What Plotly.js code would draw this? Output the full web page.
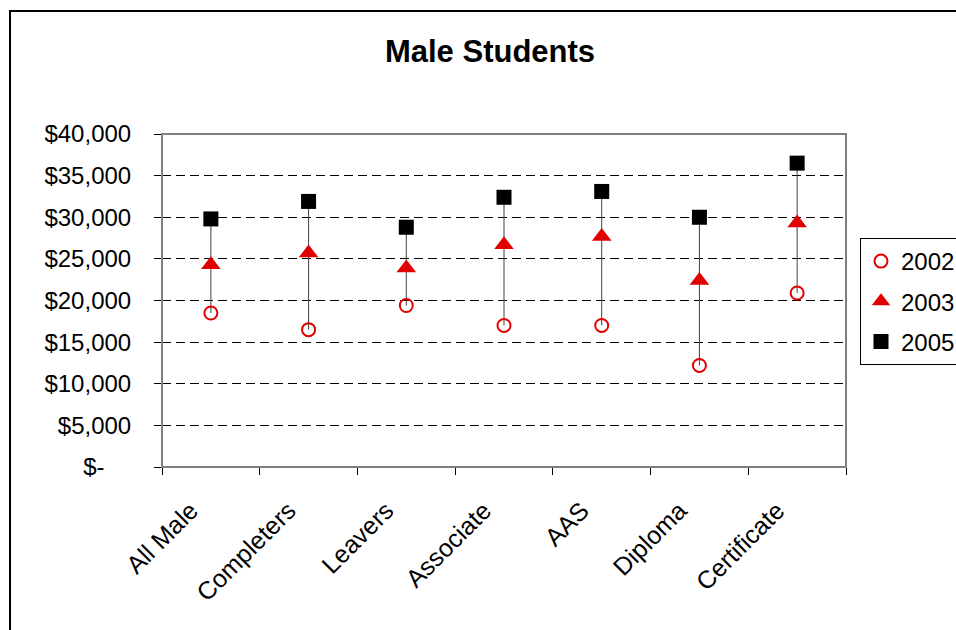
<!DOCTYPE html>
<html>
<head>
<meta charset="utf-8">
<script src="https://cdn.plot.ly/plotly-3.0.1.min.js"></script>
<style>html,body{margin:0;padding:0;background:#fff;}#chart{width:956px;height:630px;}</style>
</head>
<body>
<div id="chart"></div>
<script>
const categories = ["All Male", "Completers", "Leavers", "Associate", "AAS", "Diploma", "Certificate"];
const y2002 = [18500, 16500, 19400, 17000, 17000, 12200, 20900];
const y2003 = [24300, 25700, 23900, 26700, 27700, 22400, 29300];
const y2005 = [29800, 31900, 28800, 32400, 33100, 30000, 36500];
const tickVals = [0, 5000, 10000, 15000, 20000, 25000, 30000, 35000, 40000];
const tickText = ["$-\u00a0\u00a0\u00a0\u00a0", "$5,000", "$10,000", "$15,000", "$20,000", "$25,000", "$30,000", "$35,000", "$40,000"];

// high-low connector lines built from the series
const hlX = [], hlY = [];
categories.forEach((c, i) => {
  const vals = [y2002[i], y2003[i], y2005[i]];
  hlX.push(c, c, null);
  hlY.push(Math.min(...vals), Math.max(...vals), null);
});

const font = "Arial, 'Liberation Sans', sans-serif";
const red = "#e00000";

const traces = [
  {x: hlX, y: hlY, mode: "lines", line: {color: "#404040", width: 1}, showlegend: false, hoverinfo: "skip"},
  {x: categories, y: y2002, name: "2002", mode: "markers", legendgroup: "a",
   marker: {symbol: "circle-open", size: 13, color: red, line: {color: red, width: 2}}},
  {x: categories, y: y2003, name: "2003", mode: "markers", legendgroup: "b",
   marker: {symbol: "triangle-up", size: 17, color: red}},
  {x: categories, y: y2005, name: "2005", mode: "markers", legendgroup: "c",
   marker: {symbol: "square", size: 15, color: "#000"}}
];

const L = 162, R = 846, T = 134, B = 467;
const W = 956, H = 630;
const pw = R - L, ph = B - T;

const layout = {
  width: W, height: H,
  margin: {l: L, r: W - R, t: T, b: H - B, pad: 0, autoexpand: false},
  paper_bgcolor: "#fff", plot_bgcolor: "#fff",
  font: {family: font, color: "#000", size: 24},
  title: {text: "<b>Male Students</b>", font: {family: font, size: 31, color: "#000"},
          x: 490 / W, xref: "container", xanchor: "center", y: 1 - 51 / H, yref: "container", yanchor: "middle"},
  showlegend: true,
  legend: {x: (860 - L) / pw, xanchor: "left", y: (B - 238) / ph, yanchor: "top",
           bordercolor: "#000", borderwidth: 1, bgcolor: "#fff",
           font: {family: font, size: 24, color: "#000"}, traceorder: "grouped", tracegroupgap: 6,
           itemwidth: 30},
  xaxis: {type: "category", range: [-0.5, 6.5], tickangle: -45, ticks: "outside", ticklen: 7,
          tickson: "boundaries", tickcolor: "#000", showline: true, linecolor: "#000", linewidth: 1,
          showgrid: false, zeroline: false, ticklabelshift: -20, ticklabelstandoff: 18,
          tickfont: {family: font, size: 25, color: "#000"}, fixedrange: true},
  yaxis: {range: [0, 40000], tickvals: tickVals, ticktext: tickText, ticks: "outside", ticklen: 7,
          tickcolor: "#000", showline: true, linecolor: "#000", linewidth: 1,
          showgrid: true, gridcolor: "#000", gridwidth: 1, griddash: "9px,5px", zeroline: false,
          ticklabelstandoff: 18, tickfont: {family: font, size: 24, color: "#000"}, fixedrange: true},
  shapes: [
    {type: "rect", xref: "paper", yref: "paper", x0: 0, x1: 1, y0: 0, y1: 1,
     line: {color: "#808080", width: 2}, layer: "above"},
    {type: "rect", xref: "paper", yref: "paper",
     x0: (10 - L) / pw, x1: (W + 20 - L) / pw, y0: (B - H - 20) / ph, y1: (B - 11) / ph,
     line: {color: "#000", width: 2}, layer: "below"}
  ]
};

Plotly.newPlot("chart", traces, layout, {displayModeBar: false, staticPlot: true});
</script>
</body>
</html>
